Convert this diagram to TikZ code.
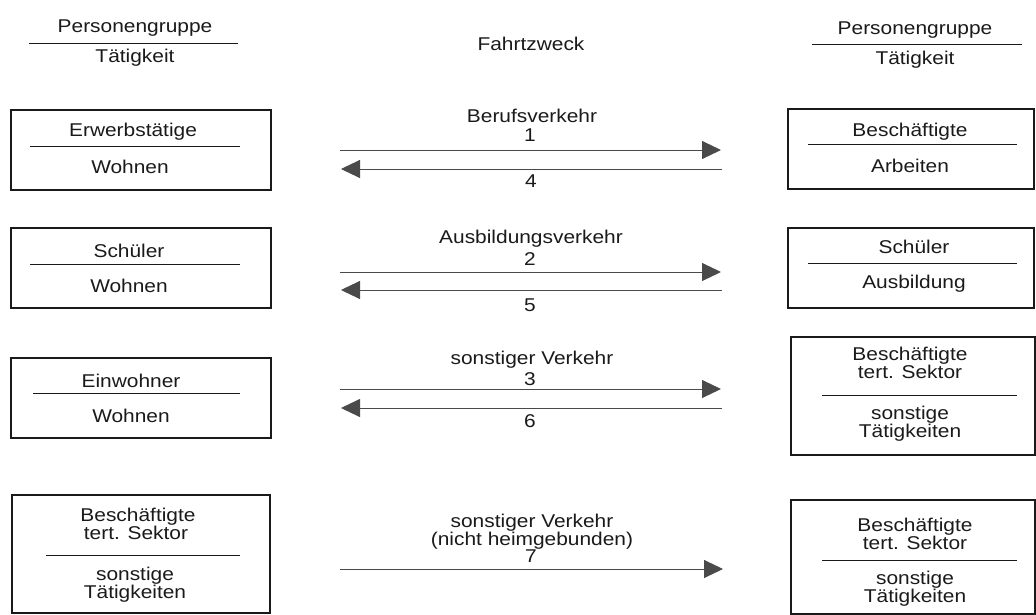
\documentclass[tikz,border=0pt]{standalone}
\usepackage{fontspec}
\setmainfont[FakeStretch=1.13]{Liberation Sans}
\usetikzlibrary{arrows.meta}
\definecolor{ink}{HTML}{1A1A1A}
\definecolor{arrowgray}{HTML}{4A4A4A}
\tikzset{
  txt/.style={anchor=base, inner sep=0pt, text=ink, font=\fontsize{18.5pt}{18pt}\selectfont},
  box/.style={draw=ink, line width=1.8pt, inner sep=0pt},
  divider/.style={draw=ink, line width=0.9pt},
  flow/.style={draw=arrowgray, line width=0.9pt, -{Triangle[length=19pt,width=18pt]}}
}
\begin{document}
\begin{tikzpicture}[x=1pt,y=-1pt]
\useasboundingbox (0,0) rectangle (1036,615);
% headers
\node[txt] (hl1) at (135,33) {Personengruppe};
\node[txt] (hl2) at (135,63) {Tätigkeit};
\coordinate (hla) at (29,43); \coordinate (hlb) at (238,43);
\draw[divider] (hla) -- (hlb);
\node[txt] (hm) at (531,51) {Fahrtzweck};
\node[txt] (hr1) at (915,35) {Personengruppe};
\node[txt] (hr2) at (915,65) {Tätigkeit};
\coordinate (hra) at (812,44); \coordinate (hrb) at (1022,44);
\draw[divider] (hra) -- (hrb);
% left boxes
\node[box, minimum width=260pt, minimum height=80pt] (L1) at (141,150) {};
\node[txt] (L1a) at (133,137) {Erwerbstätige};
\node[txt] (L1b) at (130,173) {Wohnen};
\coordinate (L1d1) at (30,146); \coordinate (L1d2) at (240,146);
\draw[divider] (L1d1) -- (L1d2);

\node[box, minimum width=260pt, minimum height=80pt] (L2) at (141,268) {};
\node[txt] (L2a) at (129,257) {Schüler};
\node[txt] (L2b) at (129,292) {Wohnen};
\coordinate (L2d1) at (30,264); \coordinate (L2d2) at (240,264);
\draw[divider] (L2d1) -- (L2d2);

\node[box, minimum width=260pt, minimum height=80pt] (L3) at (141,398) {};
\node[txt] (L3a) at (131,387) {Einwohner};
\node[txt] (L3b) at (131,422) {Wohnen};
\coordinate (L3d1) at (33,393); \coordinate (L3d2) at (240,393);
\draw[divider] (L3d1) -- (L3d2);

\node[box, minimum width=258pt, minimum height=118pt] (L4) at (141,554) {};
\node[txt] (L4a) at (138,521) {Beschäftigte};
\node[txt] (L4b) at (136,539) {tert. Sektor};
\node[txt] (L4c) at (135,580) {sonstige};
\node[txt] (L4d) at (135,598) {Tätigkeiten};
\coordinate (L4d1) at (46,555); \coordinate (L4d2) at (240,555);
\draw[divider] (L4d1) -- (L4d2);

% right boxes
\node[box, minimum width=246pt, minimum height=80pt] (R1) at (911,149) {};
\node[txt] (R1a) at (910,137) {Beschäftigte};
\node[txt] (R1b) at (910,172) {Arbeiten};
\coordinate (R1d1) at (808,144); \coordinate (R1d2) at (1017,144);
\draw[divider] (R1d1) -- (R1d2);

\node[box, minimum width=246pt, minimum height=80pt] (R2) at (911,268) {};
\node[txt] (R2a) at (914,253) {Schüler};
\node[txt] (R2b) at (914,288) {Ausbildung};
\coordinate (R2d1) at (808,263); \coordinate (R2d2) at (1017,263);
\draw[divider] (R2d1) -- (R2d2);

\node[box, minimum width=244pt, minimum height=118pt] (R3) at (913,396) {};
\node[txt] (R3a) at (910,360) {Beschäftigte};
\node[txt] (R3b) at (910,378) {tert. Sektor};
\node[txt] (R3c) at (910,419) {sonstige};
\node[txt] (R3d) at (910,437) {Tätigkeiten};
\coordinate (R3d1) at (822,395); \coordinate (R3d2) at (1017,395);
\draw[divider] (R3d1) -- (R3d2);

\node[box, minimum width=244pt, minimum height=114pt] (R4) at (913,557) {};
\node[txt] (R4a) at (915,531) {Beschäftigte};
\node[txt] (R4b) at (915,549) {tert. Sektor};
\node[txt] (R4c) at (915,584) {sonstige};
\node[txt] (R4d) at (915,602) {Tätigkeiten};
\coordinate (R4d1) at (822,560); \coordinate (R4d2) at (1017,560);
\draw[divider] (R4d1) -- (R4d2);

% middle labels and arrows
\node[txt] (m1) at (532,123) {Berufsverkehr};
\node[txt] (n1) at (530,142) {1};
\node[txt] (n4) at (531,187) {4};
\coordinate (a1s) at (340,150); \coordinate (a1e) at (721,150);
\coordinate (a4s) at (722,169); \coordinate (a4e) at (341,169);
\draw[flow] (a1s) -- (a1e);
\draw[flow] (a4s) -- (a4e);

\node[txt] (m2) at (531,243) {Ausbildungsverkehr};
\node[txt] (n2) at (530,265) {2};
\node[txt] (n5) at (530,311) {5};
\coordinate (a2s) at (340,272); \coordinate (a2e) at (721,272);
\coordinate (a5s) at (722,290); \coordinate (a5e) at (341,290);
\draw[flow] (a2s) -- (a2e);
\draw[flow] (a5s) -- (a5e);

\node[txt] (m3) at (532,364) {sonstiger Verkehr};
\node[txt] (n3) at (530,385) {3};
\node[txt] (n6) at (530,427) {6};
\coordinate (a3s) at (340,389); \coordinate (a3e) at (721,389);
\coordinate (a6s) at (722,408); \coordinate (a6e) at (341,408);
\draw[flow] (a3s) -- (a3e);
\draw[flow] (a6s) -- (a6e);

\node[txt] (m4a) at (532,527) {sonstiger Verkehr};
\node[txt] (m4b) at (532,545) {(nicht heimgebunden)};
\node[txt] (n7) at (531,562) {7};
\coordinate (a7s) at (340,569); \coordinate (a7e) at (723,569);
\draw[flow] (a7s) -- (a7e);
\end{tikzpicture}
\end{document}
